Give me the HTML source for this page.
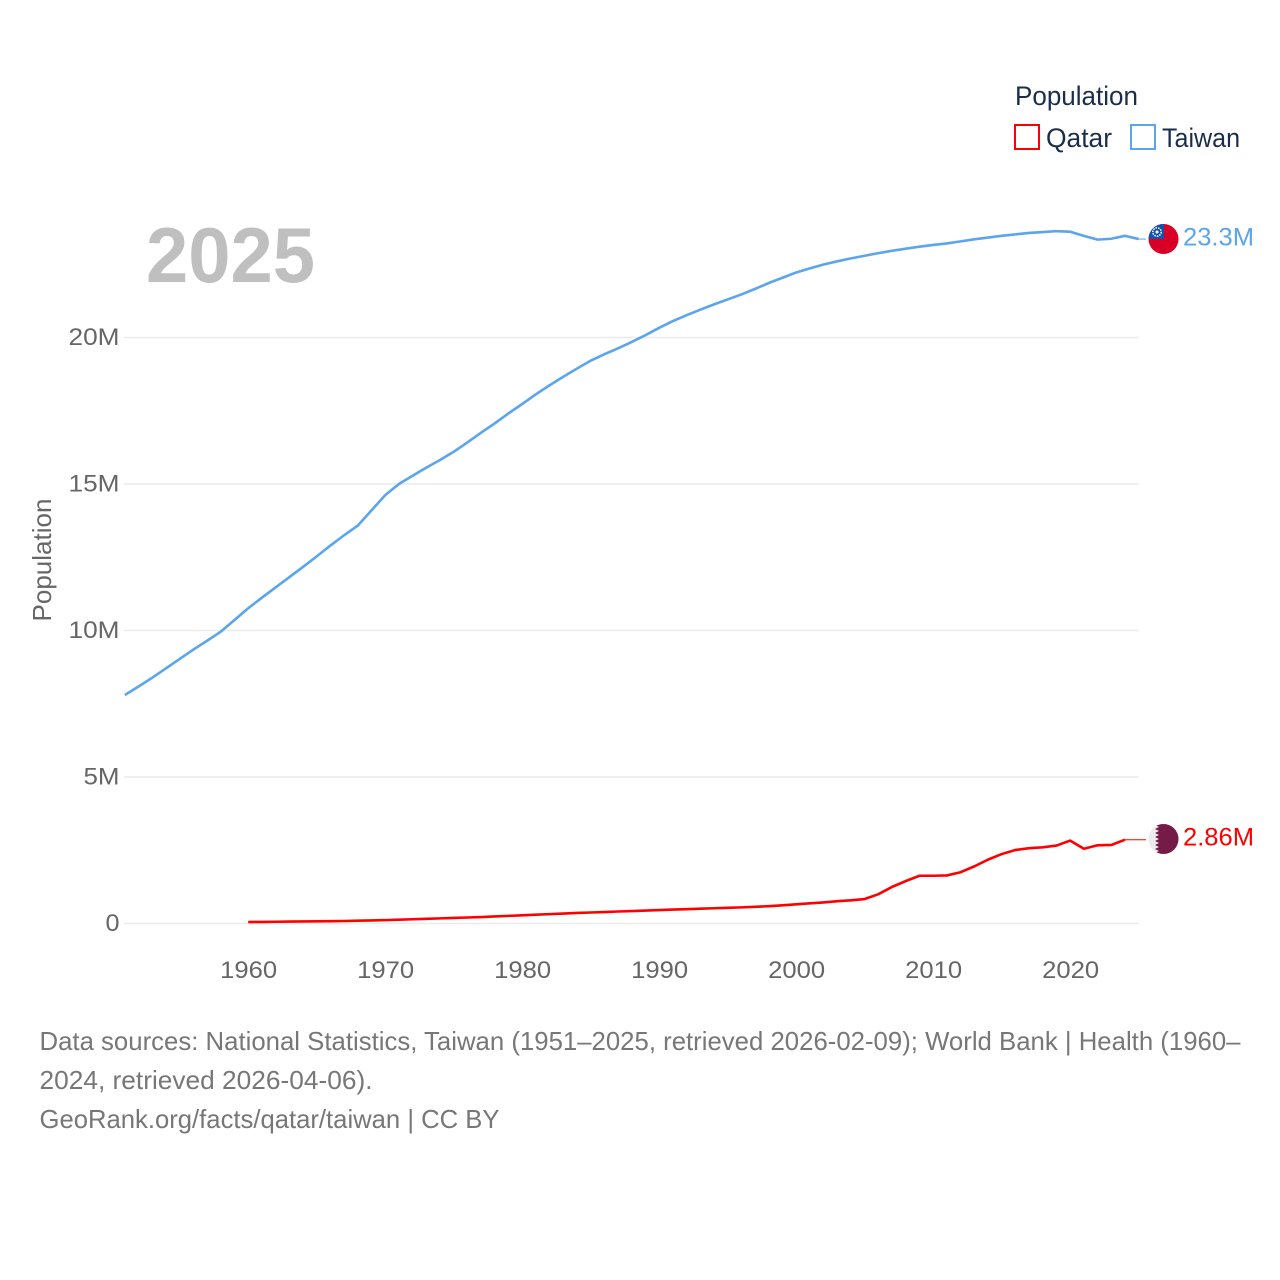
<!DOCTYPE html>
<html lang="en">
<head>
<meta charset="utf-8">
<title>Population: Qatar and Taiwan</title>
<style>
html,body{margin:0;padding:0;background:#fff}
svg{display:block}
text{font-family:"Liberation Sans",sans-serif}
</style>
</head>
<body>
<svg id="chart" width="1280" height="1280" viewBox="0 0 1280 1280" xmlns="http://www.w3.org/2000/svg">
  <defs>
    <clipPath id="flag-clip-taiwan"><circle cx="1163.5" cy="239" r="15"/></clipPath>
    <clipPath id="flag-clip-qatar"><circle cx="1163.5" cy="839" r="15"/></clipPath>
  </defs>
  <g id="grid"></g>
  <g id="yticks"></g>
  <g id="xticks"></g>
  <text transform="translate(51 560) rotate(-90)" text-anchor="middle" font-size="26" fill="#666" textLength="123" lengthAdjust="spacingAndGlyphs">Population</text>
  <text x="146" y="282" font-size="78" font-weight="700" fill="#bfbfbf" textLength="169" lengthAdjust="spacingAndGlyphs">2025</text>
  <g id="series"></g>

  <g>
    <text x="1015" y="105" font-size="27" fill="#1a2e4c" textLength="123" lengthAdjust="spacingAndGlyphs">Population</text>
    <g>
      <rect x="1015" y="125" width="24" height="24" fill="#fff" stroke="#ff0000" stroke-width="2"/>
      <text x="1046" y="147" font-size="27" fill="#1a2e4c" textLength="66" lengthAdjust="spacingAndGlyphs">Qatar</text>
    </g>
    <g>
      <rect x="1131" y="125" width="24" height="24" fill="#fff" stroke="#5ba4ee" stroke-width="2"/>
      <text x="1162" y="147" font-size="27" fill="#1a2e4c" textLength="78" lengthAdjust="spacingAndGlyphs">Taiwan</text>
    </g>
  </g>

  <g clip-path="url(#flag-clip-taiwan)">
    <rect x="1148" y="224" width="31" height="31" fill="#d80027"/>
    <rect x="1148" y="224" width="16" height="15" fill="#1353ad"/>
    <circle cx="1157" cy="232" r="4.2" fill="none" stroke="#fff" stroke-width="1.5" stroke-dasharray="1.5 1.1"/>
    <circle cx="1157" cy="232" r="1.5" fill="#fff"/>
  </g>
  <g clip-path="url(#flag-clip-qatar)">
    <rect x="1148" y="824" width="31" height="31" fill="#ececec"/>
    <polygon fill="#741b47" points="1180,823 1159,823 1155,825 1159,827 1155,829 1159,831 1155,833 1159,835 1155,837 1159,839 1155,841 1159,843 1155,845 1159,847 1155,849 1159,851 1155,853 1159,855 1180,855"/>
  </g>

  <text x="1183" y="245.5" font-size="25" fill="#5ba4ee" textLength="71" lengthAdjust="spacingAndGlyphs">23.3M</text>
  <text x="1183" y="845.5" font-size="25" fill="#ff0000" textLength="71" lengthAdjust="spacingAndGlyphs">2.86M</text>

  <g font-size="26" fill="#777">
    <text x="39.5" y="1050" textLength="1201" lengthAdjust="spacingAndGlyphs">Data sources: National Statistics, Taiwan (1951–2025, retrieved 2026-02-09); World Bank | Health (1960–</text>
    <text x="39.5" y="1089" textLength="333" lengthAdjust="spacingAndGlyphs">2024, retrieved 2026-04-06).</text>
    <text x="39.5" y="1128" textLength="460" lengthAdjust="spacingAndGlyphs">GeoRank.org/facts/qatar/taiwan | CC BY</text>
  </g>
</svg>
<script>
const yTickValues = [0, 5, 10, 15, 20];
const yTickLabels = ["0", "5M", "10M", "15M", "20M"];
const xTickYears = [1960, 1970, 1980, 1990, 2000, 2010, 2020];
const taiwanStartYear = 1951;
const taiwanValues = [
  7.8, 8.09, 8.39, 8.71, 9.03, 9.35, 9.65, 9.96, 10.36,
  10.76, 11.12, 11.47, 11.82, 12.17, 12.53, 12.9, 13.25, 13.58, 14.1,
  14.62, 15.0, 15.28, 15.56, 15.82, 16.1, 16.42, 16.75, 17.07, 17.41,
  17.73, 18.06, 18.37, 18.66, 18.94, 19.21, 19.43, 19.63, 19.85, 20.08,
  20.33, 20.56, 20.76, 20.95, 21.13, 21.3, 21.47, 21.66, 21.86, 22.04,
  22.22, 22.36, 22.49, 22.6, 22.7, 22.79, 22.88, 22.96, 23.03, 23.1,
  23.16, 23.21, 23.28, 23.35, 23.41, 23.47, 23.52, 23.57, 23.6, 23.63,
  23.61, 23.47, 23.34, 23.37, 23.47, 23.36
];
const qatarStartYear = 1960;
const qatarValues = [
  0.05, 0.055, 0.06, 0.065, 0.07, 0.075, 0.08, 0.085, 0.095, 0.105,
  0.115, 0.13, 0.145, 0.16, 0.175, 0.19, 0.205, 0.22, 0.24, 0.26,
  0.28, 0.30, 0.32, 0.34, 0.36, 0.375, 0.39, 0.41, 0.425, 0.44,
  0.46, 0.475, 0.49, 0.505, 0.52, 0.535, 0.55, 0.57, 0.59, 0.62,
  0.655, 0.69, 0.72, 0.76, 0.79, 0.835, 1.0, 1.25, 1.45, 1.63,
  1.63, 1.64, 1.75, 1.95, 2.18, 2.37, 2.51, 2.57, 2.6, 2.66,
  2.83, 2.55, 2.67, 2.68, 2.86
];

const SVG_NS = "http://www.w3.org/2000/svg";
function xScale(year) { return 248.2 + (year - 1960) * 13.7; }
function yScale(millions) { return 923.5 - millions * 29.3; }
function make(tag, attrs, parent) {
  const el = document.createElementNS(SVG_NS, tag);
  for (const k in attrs) el.setAttribute(k, attrs[k]);
  parent.appendChild(el);
  return el;
}

const grid = document.getElementById("grid");
const yticks = document.getElementById("yticks");
yTickValues.forEach(function (v, i) {
  const line = make("line", { x1: 124, x2: 1138.5, y1: yScale(v), y2: yScale(v), stroke: "#ececec", "stroke-width": 1.5 }, grid);
  
  
  const label = make("text", { x: 119.5, y: yScale(v) + 7.5, "text-anchor": "end", "font-size": 24, fill: "#666" }, yticks);
  
  
  label.textContent = yTickLabels[i];
  label.setAttribute("textLength", yTickLabels[i].length === 1 ? 14 : yTickLabels[i].length === 2 ? 36 : 51);
  label.setAttribute("lengthAdjust", "spacingAndGlyphs");
});

const xticks = document.getElementById("xticks");
xTickYears.forEach(function (year) {
  const label = make("text", { x: xScale(year) + 0.5, y: 978, "text-anchor": "middle", "font-size": 24, fill: "#666", textLength: 57, lengthAdjust: "spacingAndGlyphs" }, xticks);
  
  
  label.textContent = String(year);
});

function linePoints(startYear, values) {
  return values.map(function (v, i) {
    return xScale(startYear + i).toFixed(2) + "," + yScale(v).toFixed(2);
  }).join(" ");
}
const series = document.getElementById("series");

const taiwanLast = taiwanValues[taiwanValues.length - 1];
const taiwanLeader = make("line", { x1: xScale(taiwanStartYear + taiwanValues.length - 1), x2: 1146, y1: yScale(taiwanLast), y2: yScale(taiwanLast), stroke: "#5ba4ee", "stroke-width": 1 }, series);



const qatarLast = qatarValues[qatarValues.length - 1];
const qatarLeader = make("line", { x1: xScale(qatarStartYear + qatarValues.length - 1), x2: 1146, y1: yScale(qatarLast), y2: yScale(qatarLast), stroke: "#ff0000", "stroke-width": 1 }, series);



const taiwanLine = make("polyline", { points: linePoints(taiwanStartYear, taiwanValues), fill: "none", stroke: "#5ba4ee", "stroke-width": 2.6, "stroke-linejoin": "round" }, series);



const qatarLine = make("polyline", { points: linePoints(qatarStartYear, qatarValues), fill: "none", stroke: "#ff0000", "stroke-width": 2.6, "stroke-linejoin": "round" }, series);


</script>
</body>
</html>
